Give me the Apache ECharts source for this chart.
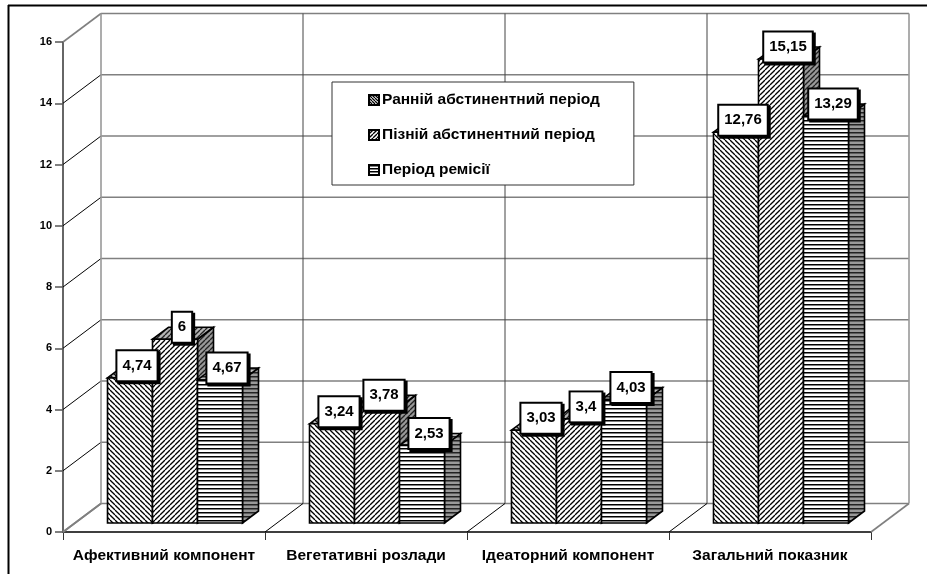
<!DOCTYPE html>
<html><head><meta charset="utf-8"><style>html,body{margin:0;padding:0;background:#fff}#c{width:927px;height:574px}</style>
<script src="https://cdn.jsdelivr.net/npm/echarts@6/dist/echarts.min.js"></script></head>
<body><div id="c"></div><script>
const categories=['Афективний компонент','Вегетативні розлади','Ідеаторний компонент','Загальний показник'];
const seriesNames=['Ранній абстинентний період','Пізній абстинентний період','Період ремісії'];
const earlyValues=[4.74,3.24,3.03,12.76];
const lateValues=[6,3.78,3.4,15.15];
const remissionValues=[4.67,2.53,4.03,13.29];
const yTicks=[0,2,4,6,8,10,12,14,16];

function diag(dir){
  return function(g,fg,n){
    g.strokeStyle=fg;g.lineWidth=1.3;
    for(let k=-n;k<=2*n;k+=n){
      g.beginPath();
      if(dir>0){g.moveTo(k,0);g.lineTo(k+n,n);}else{g.moveTo(k+n,0);g.lineTo(k,n);}
      g.stroke();
    }
  };
}
function horiz(g,fg,n){g.fillStyle=fg;g.fillRect(0,0,n,1.5);}
function pat(bg,fg,d,n){
  const c=document.createElement('canvas');c.width=n;c.height=n;
  const g=c.getContext('2d');g.fillStyle=bg;g.fillRect(0,0,n,n);d(g,fg,n);
  return {image:c,repeat:'repeat'};
}
const back=diag(1),fwd=diag(-1);
const styles=[
 {front:pat('#fff','#000',back,5),top:pat('#bbb','#111',back,5),side:pat('#999','#222',back,5),icon:pat('#fff','#000',back,3)},
 {front:pat('#fff','#000',fwd,5),top:pat('#b4b4b4','#222',fwd,5),side:pat('#999','#222',fwd,5),icon:pat('#fff','#000',fwd,4)},
 {front:pat('#fff','#000',horiz,4),top:pat('#bbb','#222',horiz,4),side:pat('#999','#222',horiz,4),icon:pat('#fff','#000',horiz,3)}
];

const DX=38,DY=-28.5,BX=16,BY=-12,LIFT=9,SHIFT=11,BAR=45;
const S=1.6;
function line(x1,y1,x2,y2,stroke,w){return {type:'line',shape:{x1,y1,x2,y2},style:{stroke,lineWidth:w},silent:true};}
function poly(points,fill){return {type:'polygon',shape:{points},style:{fill,stroke:'#000',lineWidth:S,lineJoin:'miter'},silent:true};}
const GREY='#808080';

function renderWalls(params,api){
  const y0=api.coord([0,yTicks[0]]);
  const band=api.size([1,0])[0];
  const left=y0[0]-band/2;const right=left+band*categories.length;
  const bottom=y0[1];
  const top=api.coord([0,yTicks[yTicks.length-1]])[1];
  const ch=[];
  yTicks.forEach(function(t,i){
    const y=api.coord([0,t])[1];
    const edge=(i===0||i===yTicks.length-1);
    ch.push(line(left,y,left+DX,y+DY,edge?GREY:'#000',edge?1.6:1));
    ch.push(line(left+DX,y+DY,right+DX,y+DY,GREY,1.5));
  });
  for(let k=0;k<=categories.length;k++){
    const x=left+band*k;
    const edge=(k===0||k===categories.length);
    ch.push(line(x+DX,top+DY,x+DX,bottom+DY,edge?'#999':'#444',edge?1.6:1));
    ch.push(line(x,bottom,x+DX,bottom+DY,edge?GREY:'#000',edge?1.6:1));
  }
  return {type:'group',children:ch};
}
function renderBar(si){
  return function(params,api){
    const cat=api.value(0),val=api.value(1);
    const base=api.coord([cat,0]);const t=api.coord([cat,val]);
    const x0=base[0]+SHIFT-BAR*1.5+si*BAR,x1=x0+BAR;
    const yb=base[1]-LIFT,yt=t[1]-LIFT;
    const st=styles[si];
    const label=String(val).replace('.',',');
    return {type:'group',children:[
      poly([[x1,yb],[x1+BX,yb+BY],[x1+BX,yt+BY],[x1,yt]],st.side),
      poly([[x0,yt],[x0+BX,yt+BY],[x1+BX,yt+BY],[x1,yt]],st.top),
      poly([[x0,yb],[x1,yb],[x1,yt],[x0,yt]],st.front),
      {type:'text',z2:100,silent:true,x:(x0+x1)/2+7,y:yt-12,style:{
        text:label,fill:'#000',font:'bold 15px "Liberation Sans", Arial, sans-serif',
        align:'center',verticalAlign:'middle',
        backgroundColor:'#fff',borderColor:'#000',borderWidth:2,padding:[7,5,7,5],
        shadowColor:'#000',shadowBlur:0,shadowOffsetX:2,shadowOffsetY:2
      }}
    ]};
  };
}
const FF='"Liberation Sans", Arial, sans-serif';
function seriesFor(i,vals){
  return {type:'custom',name:seriesNames[i],coordinateSystem:'cartesian2d',z:3,clip:false,
    encode:{x:0,y:1},renderItem:renderBar(i),
    itemStyle:{color:'#fff'},
    data:vals.map(function(v,k){return [k,v];})};
}
const chart=echarts.init(document.getElementById('c'),null,{renderer:'canvas'});
chart.setOption({
  animation:false,
  backgroundColor:'#fff',
  grid:{left:63,right:56,top:42,bottom:42,containLabel:false},
  xAxis:{type:'category',data:categories,boundaryGap:true,
    axisLine:{lineStyle:{color:'#000',width:1.5}},
    axisTick:{show:true,alignWithLabel:false,length:8,lineStyle:{color:'#333',width:1}},
    axisLabel:{color:'#000',fontFamily:FF,fontWeight:'bold',fontSize:15.5,margin:16,interval:0},
    splitLine:{show:false}},
  yAxis:{type:'value',min:0,max:16,interval:2,
    axisLine:{show:true,lineStyle:{color:'#333',width:1.5}},
    axisTick:{show:true,length:8,lineStyle:{color:'#555',width:1.5}},
    axisLabel:{color:'#000',fontFamily:FF,fontWeight:'bold',fontSize:11,margin:11},
    splitLine:{show:false}},
  legend:{orient:'vertical',left:332,top:82,z:10,
    padding:[10,34,7,36],itemGap:19,itemWidth:10,itemHeight:10,
    backgroundColor:'#fff',borderColor:'#333',borderWidth:1,
    selectedMode:false,
    textStyle:{color:'#000',fontFamily:FF,fontWeight:'bold',fontSize:15.5,padding:[0,0,0,-2]},
    data:seriesNames.map(function(n,i){return {name:n,icon:'rect',itemStyle:{color:styles[i].icon,borderColor:'#000',borderWidth:2}};})},
  graphic:[
    {type:'line',shape:{x1:8,y1:5.5,x2:927,y2:5.5},style:{stroke:'#000',lineWidth:2},silent:true},
    {type:'line',shape:{x1:8.5,y1:5,x2:8.5,y2:574},style:{stroke:'#000',lineWidth:2},silent:true}
  ],
  series:[
    {type:'custom',name:'walls',coordinateSystem:'cartesian2d',z:1,clip:false,encode:{x:0,y:1},renderItem:renderWalls,data:[[0,0]],silent:true},
    seriesFor(0,earlyValues),seriesFor(1,lateValues),seriesFor(2,remissionValues)
  ]
});
</script></body></html>
